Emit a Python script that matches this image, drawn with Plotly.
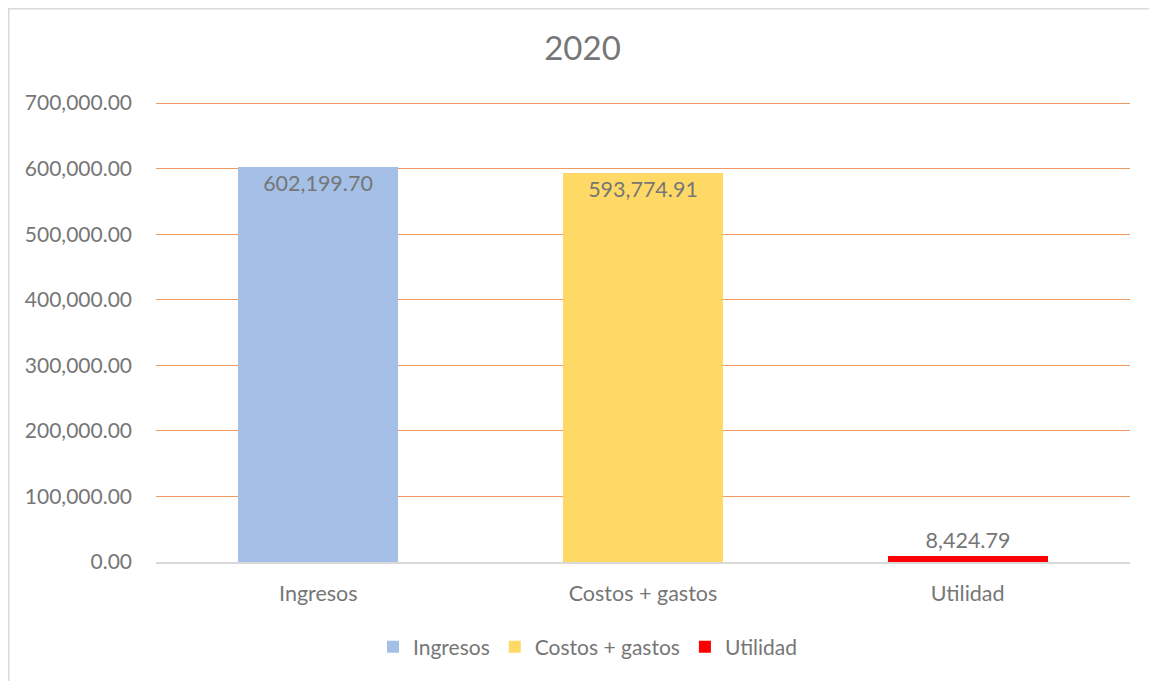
import plotly.graph_objects as go

categories = ["Ingresos", "Costos + gastos", "Utilidad"]
values = [602199.70, 593774.91, 8424.79]
colors = ["#A4C0E7", "#FFD966", "#FF0000"]
label_pos = ["inside", "inside", "outside"]
title_text = "2020"
tick_vals = [0, 100000, 200000, 300000, 400000, 500000, 600000, 700000]

FONT = "Lato, Open Sans, sans-serif"
GRAY = "#767676"

fig = go.Figure()
for cat, val, col, pos in zip(categories, values, colors, label_pos):
    fig.add_trace(go.Bar(
        x=[cat], y=[val], name=cat,
        marker=dict(color=col, line=dict(width=0)),
        width=0.493,
        text=[f"{val:,.2f}"],
        textposition=pos,
        insidetextanchor="end",
        textfont=dict(family=FONT, size=21.5, color=GRAY),
        outsidetextfont=dict(family=FONT, size=21.5, color=GRAY),
        cliponaxis=False,
    ))

# page body has an 8px margin: figure origin sits at (8, 8) in the window
W, H = 1149, 673
L, R, T, B = 148, 27, 94, 119
pw, ph = W - L - R, H - T - B

fig.update_layout(
    width=W, height=H,
    margin=dict(l=L, r=R, t=T, b=B, pad=0),
    paper_bgcolor="white", plot_bgcolor="white",
    barmode="overlay",
    bargap=0,
    title=dict(text=title_text, x=0.5, xanchor="center", y=1 - 40 / H, yanchor="middle",
               font=dict(family=FONT, size=33, color=GRAY)),
    showlegend=True,
    legend=dict(orientation="h", x=(580 - L) / pw, xanchor="center",
                y=-(639 - (H - B)) / ph, yanchor="middle",
                font=dict(family=FONT, size=21, color=GRAY),
                itemwidth=30, traceorder="normal"),
    xaxis=dict(showgrid=False, showline=True, linecolor="#D9D9D9", linewidth=1.5,
               ticks="", tickfont=dict(family=FONT, size=21.5, color=GRAY),
               ticklabelstandoff=11),
    yaxis=dict(range=[0, 701600], tickvals=tick_vals, tickformat=",.2f",
               showgrid=True, gridcolor="#EE9A62", gridwidth=1.3,
               zeroline=False, showline=False, ticks="",
               tickfont=dict(family=FONT, size=21, color=GRAY),
               ticklabelstandoff=23),
    shapes=[dict(type="rect", xref="paper", yref="paper",
                 x0=(0.75 - L) / pw, x1=(W + 5 - L) / pw,
                 y0=-(H + 5 - (H - B)) / ph, y1=(H - B - 0.75) / ph,
                 line=dict(color="#D9D9D9", width=1.5), fillcolor="rgba(0,0,0,0)",
                 layer="below")],
)

fig.write_html("out.html")
